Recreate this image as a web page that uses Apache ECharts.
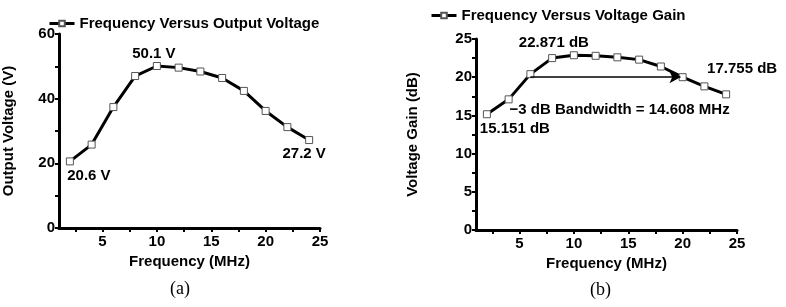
<!DOCTYPE html>
<html>
<head>
<meta charset="utf-8">
<script src="https://cdn.jsdelivr.net/npm/echarts@6/dist/echarts.min.js"></script>
<style>
  html, body { margin: 0; padding: 0; background: #fff; }
  #main { width: 786px; height: 307px; }
</style>
</head>
<body>
<div id="main"></div>
<script>
// frequency in MHz
var freq = [2, 4, 6, 8, 10, 12, 14, 16, 18, 20, 22, 24];
// (a) output voltage, V
var outVoltage = [20.6, 25.8, 37.4, 47.0, 50.1, 49.6, 48.4, 46.4, 42.4, 36.2, 31.2, 27.2];
// (b) voltage gain, dB
var gainDb = [15.151, 17.1, 20.4, 22.5, 22.871, 22.8, 22.6, 22.3, 21.4, 20.0, 18.8, 17.755];

var xTicks = [2.5, 5, 7.5, 10, 12.5, 15, 17.5, 20, 22.5, 25];
var xLabels = [5, 10, 15, 20, 25];
var yTicksA = [0, 10, 20, 30, 40, 50, 60];
var yLabelsA = [0, 20, 40, 60];
var yTicksB = [0, 2.5, 5, 7.5, 10, 12.5, 15, 17.5, 20, 22.5, 25];
var yLabelsB = [0, 5, 10, 15, 20, 25];

// -3 dB bandwidth arrow (MHz, dB)
var bwStart = [6, 20];
var bwEnd = [19.8, 20];
var bwText = '\u22123 dB Bandwidth = 14.608 MHz';

var FONT = '"Liberation Sans", Arial, sans-serif';

var chartDom = document.getElementById('main');
var myChart = echarts.init(chartDom);

function xAxisCfg(gridIndex, gap) {
	return {
		type: 'value',
		gridIndex: gridIndex,
		min: 1,
		max: 25,
		name: 'Frequency (MHz)',
		nameLocation: 'middle',
		nameGap: gap,
		nameTextStyle: { color: '#000', fontFamily: FONT, fontWeight: 'bold', fontSize: 15 },
		axisLine: { show: true, onZero: false, lineStyle: { color: '#000', width: 3 } },
		axisTick: { show: true, length: 4, lineStyle: { color: '#000', width: 2 }, customValues: xTicks },
		axisLabel: { color: '#000', fontFamily: FONT, fontWeight: 'bold', fontSize: 15, margin: 6, customValues: xLabels },
		splitLine: { show: false }
	};
}

function yAxisCfg(gridIndex, name, max, ticks, labels, gap) {
	return {
		type: 'value',
		gridIndex: gridIndex,
		min: 0,
		max: max,
		name: name,
		nameLocation: 'middle',
		nameGap: gap,
		nameTextStyle: { color: '#000', fontFamily: FONT, fontWeight: 'bold', fontSize: 15 },
		axisLine: { show: true, lineStyle: { color: '#000', width: 3 } },
		axisTick: { show: true, length: 4, lineStyle: { color: '#000', width: 2 }, customValues: ticks },
		axisLabel: { color: '#000', fontFamily: FONT, fontWeight: 'bold', fontSize: 15, margin: 4, customValues: labels },
		splitLine: { show: false }
	};
}

function pts(ys) {
	return freq.map(function (f, i) { return [f, ys[i]]; });
}

function note(i, ys, text, offset) {
	return {
		coord: [freq[i], ys[i]],
		value: text,
		symbol: 'circle',
		symbolSize: 0,
		label: {
			show: true,
			formatter: text,
			offset: offset,
			position: 'inside',
			color: '#000',
			fontFamily: FONT,
			fontWeight: 'bold',
			fontSize: 15
		}
	};
}

var lineStyle = { color: '#000', width: 3 };
var itemStyle = { color: '#fff', borderColor: '#555', borderWidth: 1 };

var option = {
	animation: false,
	grid: [
		{ left: 58, right: 466, top: 34, bottom: 79 },
		{ left: 476, right: 49, top: 39, bottom: 77 }
	],
	legend: [
		{
			data: ['Frequency Versus Output Voltage'],
			left: 43, top: 11,
			itemWidth: 25, itemHeight: 7, itemGap: 5,
			lineStyle: { width: 3, color: '#000' },
			textStyle: { color: '#000', fontFamily: FONT, fontWeight: 'bold', fontSize: 15 }
		},
		{
			data: ['Frequency Versus Voltage Gain'],
			left: 425, top: 3,
			itemWidth: 25, itemHeight: 7, itemGap: 5,
			lineStyle: { width: 3, color: '#000' },
			textStyle: { color: '#000', fontFamily: FONT, fontWeight: 'bold', fontSize: 15 }
		}
	],
	xAxis: [xAxisCfg(0, 21), xAxisCfg(1, 25)],
	yAxis: [
		yAxisCfg(0, 'Output Voltage (V)', 60, yTicksA, yLabelsA, 43),
		yAxisCfg(1, 'Voltage Gain (dB)', 25, yTicksB, yLabelsB, 56)
	],
	series: [
		{
			name: 'Frequency Versus Output Voltage',
			type: 'line',
			xAxisIndex: 0,
			yAxisIndex: 0,
			data: pts(outVoltage),
			symbol: 'rect',
			symbolSize: 7,
			showAllSymbol: true,
			lineStyle: lineStyle,
			itemStyle: itemStyle,
			markPoint: {
				silent: true,
				data: [
					note(4, outVoltage, '50.1 V', [-3, -12]),
					note(0, outVoltage, '20.6 V', [19, 14]),
					note(11, outVoltage, '27.2 V', [-5, 14])
				]
			}
		},
		{
			name: 'Frequency Versus Voltage Gain',
			type: 'line',
			xAxisIndex: 1,
			yAxisIndex: 1,
			data: pts(gainDb),
			symbol: 'rect',
			symbolSize: 7,
			showAllSymbol: true,
			lineStyle: lineStyle,
			itemStyle: itemStyle,
			markPoint: {
				silent: true,
				data: [
					note(4, gainDb, '22.871 dB', [-20, -12]),
					note(11, gainDb, '17.755 dB', [16, -25]),
					note(0, gainDb, '15.151 dB', [28, 15]),
					{
						coord: [12, bwStart[1]],
						symbol: 'circle',
						symbolSize: 0,
						label: {
							show: true, formatter: bwText, offset: [24, 33], position: 'inside',
							color: '#000', fontFamily: FONT, fontWeight: 'bold', fontSize: 15
						}
					}
				]
			},
			markLine: {
				silent: true,
				symbol: ['none', 'arrow'],
				symbolSize: [9, 11],
				label: { show: false },
				lineStyle: { color: '#000', width: 1.5, type: 'solid' },
				data: [[{ coord: bwStart }, { coord: bwEnd }]]
			}
		}
	],
	graphic: [
		{ type: 'text', left: 170, top: 280, style: { text: '(a)', font: '18px "Liberation Serif", serif', fill: '#000' } },
		{ type: 'text', left: 590, top: 281, style: { text: '(b)', font: '18px "Liberation Serif", serif', fill: '#000' } }
	]
};

option && myChart.setOption(option);
window.addEventListener('resize', function () {
	myChart.resize();
});
</script>
</body>
</html>
